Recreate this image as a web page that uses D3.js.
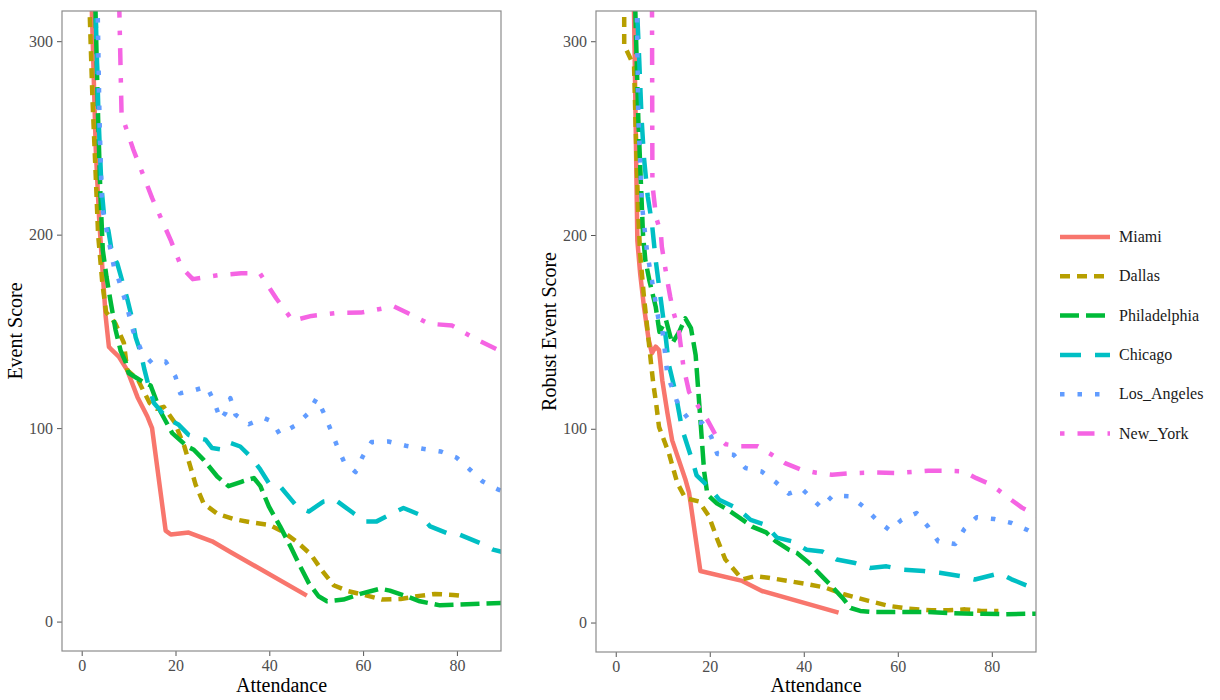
<!DOCTYPE html>
<html>
<head>
<meta charset="utf-8">
<script src="https://cdn.jsdelivr.net/npm/d3@7"></script>
<style>
  body { margin: 0; background: #fff; }
  svg { display: block; }
</style>
</head>
<body>
<svg id="chart"></svg>
<script>
// series names, in legend order
const cities = ["Miami", "Dallas", "Philadelphia", "Chicago", "Los_Angeles", "New_York"];
const xTicks = [0, 20, 40, 60, 80];
const yTicks = [0, 100, 200, 300];

// left panel: Event Score, [attendance, score]
const miamiEvent = [[2, 330], [3, 244], [3.7, 209], [4.4, 183], [5.1, 158], [5.8, 142], [6.2, 141], [7.9, 137], [9.7, 130], [11.9, 116], [14, 106], [15, 100], [17.9, 47], [19, 45], [22.8, 46], [27.8, 41.5], [31.7, 36], [48, 13.4]];
const dallasEvent = [[1.5, 330], [2.3, 270], [3, 230], [3.5, 200], [4.4, 175], [5.2, 160], [7.2, 154], [9, 144], [9.7, 130], [12, 125], [13, 120], [14.5, 113], [16, 110], [17.5, 111], [19.8, 103], [21.9, 90.5], [24.3, 70.7], [26, 61], [28.9, 55.8], [32.4, 53], [36, 51.3], [40, 50], [43, 46.3], [46, 41], [48.9, 34.6], [51.2, 26.5], [53.7, 18.8], [56.7, 15.8], [60.2, 13.8], [64, 11.4], [68, 11.7], [72, 13.3], [75.3, 14.3], [79.2, 13.8], [81.7, 13.1]];
const phillyEvent = [[2.8, 330], [3.5, 260], [4, 220], [4.5, 192], [5.3, 178], [6.2, 165], [7.2, 151], [8.3, 140], [9.4, 134], [10, 128.5], [13, 124], [14.7, 122], [16.8, 108.6], [19.3, 97.4], [22.5, 90.5], [23.9, 88.8], [26, 83.6], [28.9, 75], [31.3, 70], [34.2, 72.4], [36.7, 74.2], [38.1, 70], [39.9, 59.5], [42.3, 49.2], [44.5, 38.9], [46.6, 28.5], [48.4, 20], [50.5, 13.1], [52.3, 10.5], [55.8, 11.4], [59.4, 14.3], [63.6, 17], [65.7, 16], [69.3, 13.1], [72.1, 10.5], [76.4, 8.4], [80.6, 8.8], [89.6, 9.6]];
const chicagoEvent = [[2.8, 330], [3.6, 260], [4.2, 225], [4.8, 209], [5.7, 202], [6.5, 190], [7.6, 185], [9, 173], [9.8, 166], [10.8, 156], [11.5, 147], [12.6, 139], [13.3, 131], [14.3, 121.5], [15.4, 113], [18.2, 105], [20.7, 101.7], [22.8, 96.5], [25, 94.8], [26.4, 94], [27.8, 89.7], [30.3, 88.8], [31.7, 92.3], [33.8, 90.5], [36, 85.3], [38.1, 78.5], [39.9, 71.6], [42.3, 69.9], [45.9, 59.5], [48.4, 56.9], [51.6, 62.1], [54, 63], [57.9, 56.1], [60.4, 51.8], [62.9, 51.8], [66.4, 56.1], [68.6, 58.7], [72.1, 55.2], [74.3, 49.2], [77.8, 45.8], [80.6, 44.9], [84.9, 40.6], [87.7, 37.2], [89.6, 36]];
const laEvent = [[3.3, 330], [3.8, 260], [4.3, 215], [5.5, 200], [6.9, 183], [7.2, 182], [9.4, 165], [11, 150], [12.9, 139], [15, 133.6], [17.9, 134.4], [20, 126.6], [21, 118], [24.3, 119.8], [26.7, 121.5], [28.3, 113.2], [29.6, 104.3], [30.6, 107.7], [31.7, 115.5], [32.8, 106.9], [35.6, 102], [38.9, 105.2], [40.6, 103.4], [42.2, 96.9], [45.5, 101.3], [48.2, 107.4], [50.1, 115.5], [51.7, 107.4], [53.1, 99.1], [54.5, 90.5], [56, 82.2], [58.4, 77.3], [59.9, 85.3], [61.8, 92.8], [65.4, 93.1], [69.1, 90.9], [72.8, 89.3], [76.6, 87.9], [79.9, 84.8], [82.8, 78.5], [85.5, 72.4], [88.6, 68.5], [89.6, 67.5]];
const nyEvent = [[7.9, 330], [8.5, 262], [11, 244], [15, 219], [19, 197], [21.3, 183], [23.7, 177], [29, 179], [34, 180], [38, 180], [41.5, 167], [45, 155.5], [49, 158], [54.5, 159.5], [59.5, 159.7], [64.5, 162], [66.5, 163], [69.5, 159.5], [74, 154], [79, 153], [84, 146], [89.6, 139.5]];

// right panel: Robust Event Score, [attendance, score]
const miamiRobust = [[3.8, 330], [4.6, 197], [5.2, 180], [6, 163], [7, 146], [7.7, 139], [8.5, 142.4], [9.2, 140.6], [9.9, 125], [11, 108], [12, 94], [14.8, 74], [15.6, 67], [18, 26.6], [26.9, 21.5], [31.1, 16.3], [47.4, 5.1]];
const dallasRobust = [[1.8, 330], [1.8, 298], [3.9, 287], [4.3, 250], [4.8, 210], [5.2, 190], [6, 168], [6.8, 150], [7.5, 134], [8, 123], [8.6, 113], [9.2, 101], [11.3, 87.4], [13.1, 72], [14.8, 64.2], [17.7, 62.5], [19.8, 55], [21.6, 43], [23.3, 32.6], [25.4, 26.6], [26.9, 22.2], [29.7, 24], [32.5, 23.1], [36.8, 21.4], [41, 19.7], [44.6, 18], [48.5, 14.6], [53.8, 11.2], [58.1, 8.6], [62.3, 7.2], [67.2, 6.3], [70.8, 6.3], [74.3, 6.8], [77.8, 6], [81.4, 6]];
const phillyRobust = [[4, 330], [4.8, 260], [5.8, 200], [6.3, 187], [7.2, 176], [8.5, 163], [9.3, 150], [10.7, 156], [12, 144], [13.5, 150], [14.8, 157], [16, 152], [17, 138], [18, 105], [18.8, 78], [19.5, 66], [21.5, 61.5], [24, 58], [27, 53], [29, 49.5], [32, 46.5], [34, 42], [36.8, 37.6], [38.5, 36], [41, 31], [43, 26], [46, 18.6], [48.5, 12], [50, 7.5], [52, 6], [54.4, 5.5], [60, 5.5], [66, 5.5], [72, 4.8], [78, 4.5], [82.8, 4.3], [89.6, 4.6]];
const chicagoRobust = [[4.3, 330], [5, 290], [5.5, 260], [6, 240], [6.8, 220], [7.7, 206], [8.5, 187], [9.4, 170], [10.5, 150], [11.3, 133], [12.6, 120], [14.1, 100], [16.5, 82], [17.2, 76], [20, 69.5], [22, 63.4], [25.8, 59], [28.7, 53], [31.8, 50.5], [34.3, 43.8], [37.4, 42], [40.6, 37.6], [43.9, 36.7], [47, 32.5], [50.9, 30.7], [54.1, 28.2], [57.6, 29], [61.2, 27.3], [65.5, 26.6], [68.9, 25.7], [73.2, 24], [76.4, 22.2], [80.7, 24.8], [82, 25.1], [84.2, 22.3], [89.6, 17]];
const laRobust = [[4.4, 330], [4.8, 260], [5.6, 215], [6.7, 190.5], [7.4, 181], [8.5, 165], [9.2, 155], [9.9, 151], [10.2, 145], [10.6, 137], [11, 127], [12.2, 120], [13.4, 111.5], [15.6, 104.6], [18.4, 103], [20.3, 96], [21.6, 87], [25.1, 86.6], [27.6, 79.7], [31, 78], [34, 72.5], [36.8, 66.5], [39.6, 69], [43.7, 59.4], [46.2, 65.6], [49.9, 65.1], [52.8, 59.6], [55.5, 53], [58.3, 47.6], [60.8, 53], [64, 56.5], [66.5, 49.3], [68.6, 41.9], [72.2, 40.5], [74.2, 48.4], [76.8, 54.4], [80.6, 53.4], [84.2, 51.4], [87.7, 47.6], [89.6, 45]];
const nyRobust = [[7.7, 330], [7.8, 226], [8.6, 209], [9.6, 201], [9.8, 194], [11, 176], [11.6, 168], [12.3, 160], [13.4, 151], [14.4, 132], [15.6, 119], [17.7, 111], [19.4, 105], [21.2, 97], [23.4, 92], [26.5, 91], [30.2, 91], [33.2, 86.6], [36, 82.3], [39.3, 79], [42.7, 77.3], [46, 76.3], [49.5, 77], [55, 77.4], [60, 77.2], [63.6, 77.8], [66.5, 78.3], [70.2, 78.3], [74, 78], [76.7, 74.5], [80, 71], [83.2, 65], [86.4, 59.3], [89.6, 55]];

const eventSeries = [miamiEvent, dallasEvent, phillyEvent, chicagoEvent, laEvent, nyEvent];
const robustSeries = [miamiRobust, dallasRobust, phillyRobust, chicagoRobust, laRobust, nyRobust];

// ggplot default hues and linetypes
const colors = ["#F8766D", "#B79F00", "#00BA38", "#00BFC4", "#619CFF", "#F564E3"];
const dashes = [null, "10,7", "19,7", "21,14", "4.5,13", "4.5,13,17,13"];

const width = 1220, height = 700;
const lineWidth = 4.5;
const font = "'Liberation Serif', 'Times New Roman', serif";

const svg = d3.select("#chart")
    .attr("width", width)
    .attr("height", height);

function drawPanel(left, right, top, bottom, title, seriesList, id) {
    const x = d3.scaleLinear().domain([-4.2, 89.4]).range([left, right]);
    const y = d3.scaleLinear().domain([-15.2, 315.6]).range([bottom, top]);

    svg.append("clipPath").attr("id", id)
        .append("rect")
        .attr("x", left).attr("y", top)
        .attr("width", right - left).attr("height", bottom - top);

    const line = d3.line()
        .x(d => x(d[0]))
        .y(d => y(d[1]));

    const g = svg.append("g").attr("clip-path", `url(#${id})`);
    seriesList.forEach((s, i) => {
        g.append("path")
            .datum(s)
            .attr("d", line)
            .attr("fill", "none")
            .attr("stroke", colors[i])
            .attr("stroke-width", lineWidth)
            .attr("stroke-dasharray", dashes[i])
            .attr("stroke-linejoin", "round");
    });

    // Axes
    const xAxis = d3.axisBottom(x).tickValues(xTicks).tickSize(5).tickPadding(4);
    const yAxis = d3.axisLeft(y).tickValues(yTicks).tickSize(5).tickPadding(4);

    const gx = svg.append("g")
        .attr("transform", `translate(0, ${bottom})`)
        .call(xAxis);
    const gy = svg.append("g")
        .attr("transform", `translate(${left}, 0)`)
        .call(yAxis);

    [gx, gy].forEach(a => {
        a.select(".domain").remove();
        a.selectAll(".tick line").attr("stroke", "#555");
        a.selectAll(".tick text")
            .attr("fill", "#4d4d4d")
            .style("font-family", font)
            .style("font-size", "16px");
    });

    // Panel border
    svg.append("rect")
        .attr("x", left).attr("y", top)
        .attr("width", right - left).attr("height", bottom - top)
        .attr("fill", "none")
        .attr("stroke", "#8c8c8c")
        .attr("stroke-width", 1.2);

    svg.append("text")
        .attr("x", (left + right) / 2)
        .attr("y", 692)
        .attr("text-anchor", "middle")
        .style("font-family", font)
        .style("font-size", "20px")
        .text("Attendance");

    svg.append("text")
        .attr("transform", `translate(${left - 40}, ${(top + bottom) / 2}) rotate(-90)`)
        .attr("text-anchor", "middle")
        .style("font-family", font)
        .style("font-size", "20px")
        .text(title);
}

drawPanel(62, 501, 11, 651, "Event Score", eventSeries, "clipLeft");
drawPanel(596, 1036, 11, 652, "Robust Event Score", robustSeries, "clipRight");

// Legend
const legend = svg.append("g").attr("transform", "translate(1060, 237)");
cities.forEach((c, i) => {
    const row = legend.append("g").attr("transform", `translate(0, ${i * 39.3})`);
    row.append("line")
        .attr("x1", 0).attr("x2", 50)
        .attr("y1", 0).attr("y2", 0)
        .attr("stroke", colors[i])
        .attr("stroke-width", lineWidth)
        .attr("stroke-dasharray", dashes[i]);
    row.append("text")
        .attr("x", 59)
        .attr("y", 5)
        .style("font-family", font)
        .style("font-size", "16px")
        .attr("fill", "#1a1a1a")
        .text(c);
});
</script>
</body>
</html>
